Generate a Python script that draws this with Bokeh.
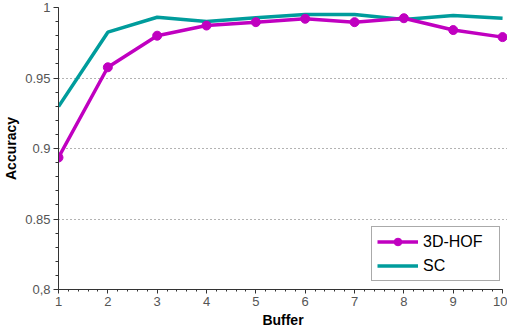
from bokeh.plotting import figure
from bokeh.models import Range1d, FixedTicker, Legend, LegendItem
from bokeh.embed import file_html
from bokeh.resources import INLINE

buffers = [1, 2, 3, 4, 5, 6, 7, 8, 9, 10]
hof_3d = [0.8936, 0.9576, 0.9800, 0.9872, 0.9896, 0.9920, 0.9896, 0.9924, 0.9840, 0.9790]
sc = [0.9297, 0.9825, 0.9931, 0.9900, 0.9927, 0.9950, 0.9950, 0.9915, 0.9943, 0.9924]

y_ticks = [0.8, 0.85, 0.9, 0.95, 1.0]
y_tick_labels = ["0,8", "0.85", "0.9", "0.95", "1"]
x_ticks = [1, 2, 3, 4, 5, 6, 7, 8, 9, 10]

FONT = "Liberation Sans"
MAGENTA = "#c000c0"
TEAL = "#009c9c"

p = figure(width=507, height=333, output_backend="svg", toolbar_location=None,
           x_range=Range1d(1, 10.1), y_range=Range1d(0.8, 1.0),
           min_border_left=58, min_border_right=0, min_border_top=7, min_border_bottom=44)
p.outline_line_color = None
p.background_fill_color = "white"
p.border_fill_color = "white"

r_sc = p.line(buffers, sc, line_color=TEAL, line_width=3.5)
r_hof = p.line(buffers, hof_3d, line_color=MAGENTA, line_width=3.5)
r_hof_m = p.scatter(buffers, hof_3d, marker="circle", size=9, fill_color=MAGENTA, line_color=MAGENTA)

# axes
xa = p.xaxis[0]
ya = p.yaxis[0]
xa.ticker = FixedTicker(ticks=x_ticks, minor_ticks=[1 + 0.2 * i for i in range(46)])
xa.bounds = (1, 10)
ya.ticker = FixedTicker(ticks=y_ticks, minor_ticks=[round(0.8 + 0.01 * i, 2) for i in range(21)])
ya.major_label_overrides = {t: l for t, l in zip(y_ticks, y_tick_labels)}
xa.major_label_overrides = {t: str(t) for t in x_ticks}

for ax in (xa, ya):
    ax.axis_line_color = "#333333"
    ax.axis_line_width = 1
    ax.major_tick_line_color = "#333333"
    ax.minor_tick_line_color = "#333333"
    ax.major_tick_in = 0
    ax.minor_tick_in = 0
    ax.major_label_text_font = FONT
    ax.major_label_text_font_size = "13px"
    ax.major_label_text_color = "#555555"
    ax.axis_label_text_font = FONT
    ax.axis_label_text_font_size = "14px"
    ax.axis_label_text_font_style = "bold"
    ax.axis_label_text_color = "#000000"

xa.major_tick_out = 4
xa.minor_tick_out = 2
ya.major_tick_out = 5
ya.minor_tick_out = 3
xa.major_label_standoff = 3
ya.major_label_standoff = 3
xa.axis_label = "Buffer"
ya.axis_label = "Accuracy"
xa.axis_label_standoff = 3
ya.axis_label_standoff = 3

p.xgrid.grid_line_color = None
p.ygrid.ticker = FixedTicker(ticks=y_ticks[1:])
p.ygrid.grid_line_color = "#666666"
p.ygrid.grid_line_dash = "1 3"
p.ygrid.grid_line_width = 1

legend = Legend(items=[LegendItem(label="3D-HOF", renderers=[r_hof, r_hof_m]),
                       LegendItem(label="SC", renderers=[r_sc])],
                location=(313, 8))
legend.label_text_font = FONT
legend.label_text_font_size = "16px"
legend.label_text_color = "#000000"
legend.border_line_color = "#555555"
legend.border_line_width = 1.5
legend.background_fill_color = "white"
legend.background_fill_alpha = 1
legend.padding = 5
legend.spacing = 5
legend.margin = 0
legend.glyph_width = 41
legend.glyph_height = 19
legend.label_standoff = 5
legend.label_width = 71
legend.label_height = 19
p.add_layout(legend, "center")

open("out.html", "w").write(file_html(p, INLINE))
